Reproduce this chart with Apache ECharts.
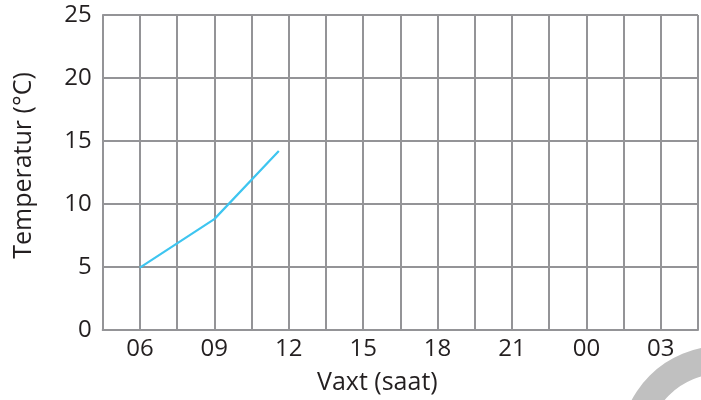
<!DOCTYPE html>
<html>
<head>
<meta charset="utf-8">
<script src="https://cdn.jsdelivr.net/npm/echarts@6/dist/echarts.min.js"></script>
<style>html,body{margin:0;padding:0;background:#fff}#c{width:701px;height:400px}</style>
</head>
<body>
<div id="c"></div>
<script>
var hours = [6, 9, 11.6];
var temps = [4.95, 8.8, 14.2];
var tickHours = [6, 9, 12, 15, 18, 21, 24, 27];
var tickLabels = ['06', '09', '12', '15', '18', '21', '00', '03'];
var xName = 'Vaxt (saat)';
var yName = 'Temperatur (°C)';

var gridColor = '#949497';
var textColor = '#231f20';
var font = 'Open Sans';

var chart = echarts.init(document.getElementById('c'), null, {renderer: 'canvas'});
chart.setOption({
  animation: false,
  grid: {left: 102.7, top: 15, right: 1, bottom: 69.8, containLabel: false},
  xAxis: {
    type: 'value', min: 4.5, max: 28.5, interval: 1.5,
    name: xName, nameLocation: 'middle', nameGap: 40,
    nameTextStyle: {fontFamily: font, fontSize: 25, color: textColor, padding: [0, 46, 0, 0]},
    axisLine: {show: true, lineStyle: {color: gridColor, width: 2}},
    axisTick: {show: false},
    axisLabel: {
      margin: 7, fontFamily: font, fontSize: 24, color: textColor,
      formatter: function (v) {
        var i = tickHours.indexOf(Math.round(v * 10) / 10);
        return i >= 0 ? tickLabels[i] : '';
      }
    },
    splitLine: {show: true, lineStyle: {color: gridColor, width: 2}}
  },
  yAxis: {
    type: 'value', min: 0, max: 25, interval: 5,
    name: yName, nameLocation: 'middle', nameGap: 66,
    nameTextStyle: {fontFamily: font, fontSize: 25, color: textColor, padding: [0, 0, 0, 14]},
    axisLine: {show: true, lineStyle: {color: gridColor, width: 2}},
    axisTick: {show: false},
    axisLabel: {margin: 11, fontFamily: font, fontSize: 24, color: textColor},
    splitLine: {show: true, lineStyle: {color: gridColor, width: 2}}
  },
  graphic: [{
    type: 'ring', silent: true, z: 100,
    shape: {cx: 721.4, cy: 447.6, r: 101.6, r0: 74},
    style: {fill: '#c0c0c0'}
  }],
  series: [{
    type: 'line',
    data: hours.map(function (h, i) { return [h, temps[i]]; }),
    symbol: 'none',
    lineStyle: {color: '#3ec5f0', width: 2.2},
    z: 5
  }]
});
</script>
</body>
</html>
